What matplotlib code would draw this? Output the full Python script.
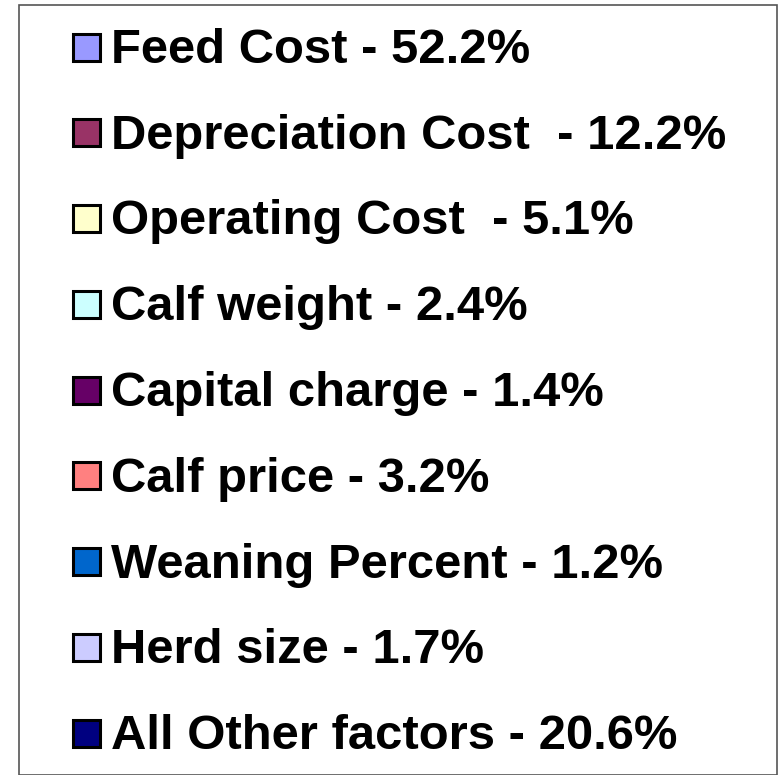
import matplotlib.pyplot as plt
from matplotlib.patches import Rectangle

# legend entries of the cost breakdown
factors = ['Feed Cost', 'Depreciation Cost ', 'Operating Cost ', 'Calf weight',
           'Capital charge', 'Calf price', 'Weaning Percent', 'Herd size',
           'All Other factors']
percents = [52.2, 12.2, 5.1, 2.4, 1.4, 3.2, 1.2, 1.7, 20.6]
colors = ['#9999FF', '#993366', '#FFFFCC', '#CCFFFF', '#660066',
          '#FF8080', '#0066CC', '#CCCCFF', '#000080']

W, H = 783, 775
fig = plt.figure(figsize=(W / 100, H / 100), dpi=100)
ax = fig.add_axes([0, 0, 1, 1])
ax.set_xlim(0, W)
ax.set_ylim(H, 0)
ax.axis('off')

# outer frame
ax.add_patch(Rectangle((18.5, 4.5), 758, 770, fill=False, edgecolor='#555555', linewidth=1.2))

y0, step = 47, 85.75
for i, (name, pct, col) in enumerate(zip(factors, percents, colors)):
    y = y0 + i * step
    ax.add_patch(Rectangle((73, y - 13.5), 27, 27, facecolor=col, edgecolor='black', linewidth=2.2))
    ax.text(111, y + 16, f'{name} - {pct:.1f}%', fontsize=35.3, fontweight='bold',
            family='Liberation Sans', ha='left', va='baseline', color='black')

fig.savefig('out.png', dpi=100)
